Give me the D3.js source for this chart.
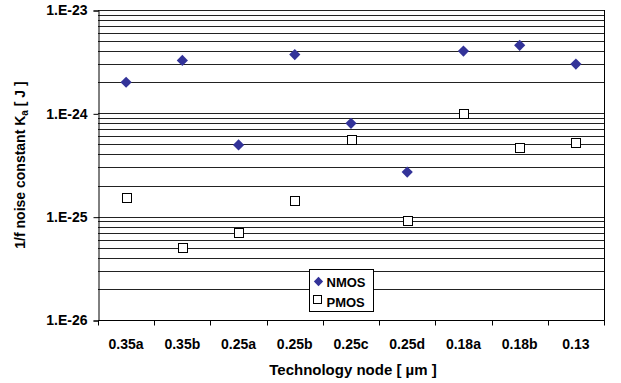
<!DOCTYPE html>
<html>
<head>
<meta charset="utf-8">
<script src="https://cdn.jsdelivr.net/npm/d3@7"></script>
<style>
  body { margin: 0; background: #fff; }
  text { font-family: "Liberation Sans", Arial, sans-serif; font-weight: bold; }
</style>
</head>
<body>
<div id="chart"></div>
<script>
// data
const nodes = ["0.35a","0.35b","0.25a","0.25b","0.25c","0.25d","0.18a","0.18b","0.13"]
const nmos = [2.0e-24, 3.25e-24, 4.95e-25, 3.7e-24, 8.0e-25, 2.7e-25, 4.0e-24, 4.55e-24, 3.0e-24]
const pmos = [1.52e-25, 5.0e-26, 7.1e-26, 1.43e-25, 5.6e-25, 9.1e-26, 1.0e-24, 4.7e-25, 5.2e-25]
const yTicks = [1e-26, 1e-25, 1e-24, 1e-23]
const yTickLabels = ["1.E-26","1.E-25","1.E-24","1.E-23"]

const width = 621, height = 383
const pLeft = 98, pRight = 604, pTop = 10, pBottom = 320
const fs = 14

const svg = d3.select("#chart").append("svg")
  .attr("width", width).attr("height", height)

const x = d3.scaleBand().domain(nodes).range([pLeft, pRight])
const y = d3.scaleLog().domain([1e-26, 1e-23]).range([pBottom, pTop])

// gridlines at every 1..9 x 10^n
var grid = []
for (let e = -26; e < -23; e++) {
  for (let m = 1; m <= 9; m++) grid.push(m * Math.pow(10, e))
}
grid.push(1e-23)
svg.selectAll("line.grid")
  .data(grid.filter(d => d > 1e-26))
  .join("line")
  .attr("class", "grid")
  .attr("x1", pLeft).attr("x2", pRight)
  .attr("y1", d => Math.round(y(d)) + 0.5)
  .attr("y2", d => Math.round(y(d)) + 0.5)
  .attr("stroke", "#222")
  .attr("stroke-width", 1)

// right border
svg.append("line")
  .attr("x1", pRight + 0.5).attr("x2", pRight + 0.5)
  .attr("y1", pTop).attr("y2", pBottom)
  .attr("stroke", "#000")

// y axis
const yAxis = d3.axisLeft(y).tickValues(yTicks)
  .tickFormat((d, i) => yTickLabels[i]).tickSize(5).tickPadding(6)
const gy = svg.append("g").attr("transform", `translate(${pLeft + 0.5},0.5)`).call(yAxis)
gy.select(".domain").attr("stroke", "#000")
gy.selectAll(".tick line").attr("stroke", "#000")
gy.selectAll(".tick text").attr("font-size", fs).attr("fill", "#000")
  .style("font-family", "Liberation Sans, Arial, sans-serif").style("font-weight", "bold")

// x axis: ticks between categories
const gx = svg.append("g").attr("transform", `translate(0,${pBottom + 0.5})`)
gx.append("line").attr("x1", pLeft).attr("x2", pRight + 1).attr("stroke", "#000")
gx.selectAll("line.tk")
  .data(nodes.concat(["end"]))
  .join("line")
  .attr("class", "tk")
  .attr("x1", (d, i) => Math.round(pLeft + i * x.bandwidth()) + 0.5)
  .attr("x2", (d, i) => Math.round(pLeft + i * x.bandwidth()) + 0.5)
  .attr("y1", 0).attr("y2", 5)
  .attr("stroke", "#000")
gx.selectAll("text")
  .data(nodes)
  .join("text")
  .attr("x", d => x(d) + x.bandwidth() / 2)
  .attr("y", 28)
  .attr("text-anchor", "middle")
  .attr("font-size", fs)
  .text(d => d)

// axis titles
svg.append("text")
  .attr("x", (pLeft + pRight) / 2 + 2).attr("y", 375)
  .attr("text-anchor", "middle").attr("font-size", 15)
  .text("Technology node [ µm ]")

const yl = svg.append("text")
  .attr("transform", `translate(25,${(pTop + pBottom) / 2}) rotate(-90)`)
  .attr("text-anchor", "middle").attr("font-size", fs)
yl.append("tspan").text("1/f noise constant K")
yl.append("tspan").attr("font-size", 10).attr("dy", 3).text("a")
yl.append("tspan").attr("dy", -3).text(" [ J ]")

// markers
const diamond = d3.symbol().type(d3.symbolDiamond2).size(80)
svg.selectAll("path.nmos")
  .data(nmos)
  .join("path")
  .attr("class", "nmos")
  .attr("d", diamond)
  .attr("transform", (d, i) => `translate(${x(nodes[i]) + x.bandwidth() / 2},${y(d)})`)
  .attr("fill", "#333399")

svg.selectAll("rect.pmos")
  .data(pmos)
  .join("rect")
  .attr("class", "pmos")
  .attr("x", (d, i) => Math.round(x(nodes[i]) + x.bandwidth() / 2 - 4.5) + 0.5)
  .attr("y", d => Math.round(y(d) - 4.5) + 0.5)
  .attr("width", 9).attr("height", 9)
  .attr("fill", "#fff").attr("stroke", "#000")

// legend
const lg = svg.append("g").attr("transform", "translate(309.5,269.5)")
lg.append("rect").attr("width", 64).attr("height", 42)
  .attr("fill", "#fff").attr("stroke", "#000")
lg.append("path").attr("d", d3.symbol().type(d3.symbolDiamond2).size(55))
  .attr("transform", "translate(9,12)").attr("fill", "#333399")
lg.append("rect").attr("x", 4).attr("y", 26).attr("width", 8).attr("height", 8)
  .attr("fill", "#fff").attr("stroke", "#000")
lg.append("text").attr("x", 17).attr("y", 17).attr("font-size", 13).text("NMOS")
lg.append("text").attr("x", 17).attr("y", 37).attr("font-size", 13).text("PMOS")
</script>
</body>
</html>
